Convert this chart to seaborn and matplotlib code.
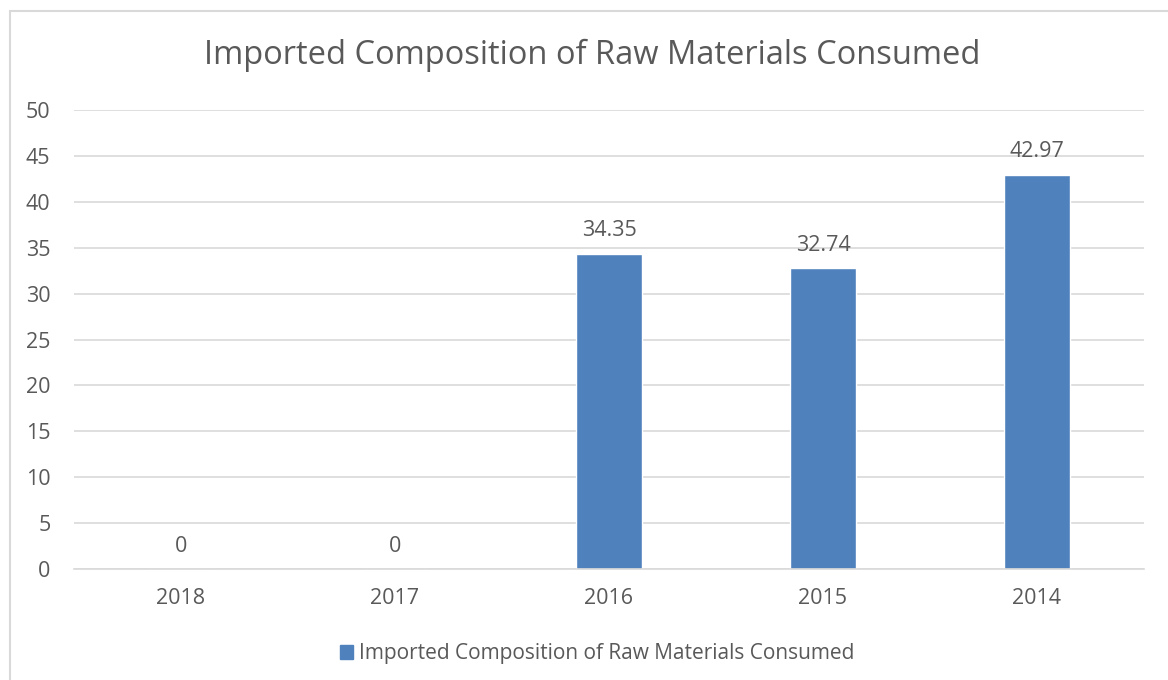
import matplotlib
matplotlib.use("Agg")
import matplotlib.pyplot as plt
import matplotlib.patches as mpatches
import pandas as pd
import seaborn as sns

# ─── Data ─────────────────────────────────────────────────────────────────────
years = ["2018", "2017", "2016", "2015", "2014"]
values = [0, 0, 34.35, 32.74, 42.97]
series_name = "Imported Composition of Raw Materials Consumed"
title = "Imported Composition of Raw Materials Consumed"

BAR = "#4f81bd"
TXT = "#595959"
GRID = "#d9d9d9"

df = pd.DataFrame({"year": years, "value": values, "series": series_name})

sns.set_theme(style="white")
plt.rcParams["font.family"] = ["Open Sans", "DejaVu Sans"]

fig = plt.figure(figsize=(11.68, 6.8), dpi=100)
ax = fig.add_axes([0.0634, 0.1632, 0.916, 0.675])

sns.barplot(
    data=df, x="year", y="value", hue="series", order=years,
    palette=[BAR], width=0.31, ax=ax, saturation=1,
)

ax.set_ylim(0, 50)
ax.set_yticks(range(0, 51, 5))
ax.set_xlim(-0.5, len(years) - 0.5)
ax.grid(axis="y", color=GRID, linewidth=1.2)
ax.set_axisbelow(True)
for side in ["top", "right", "left"]:
    ax.spines[side].set_visible(False)
ax.spines["bottom"].set_color(GRID)
ax.spines["bottom"].set_linewidth(1.2)
ax.set_xlabel("")
ax.set_ylabel("")
ax.tick_params(axis="both", length=0, labelsize=15.5, colors=TXT)
ax.tick_params(axis="x", pad=14)
ax.tick_params(axis="y", pad=17)

for i, v in enumerate(values):
    ax.annotate(f"{v:g}", (i, v), xytext=(0, 9), textcoords="offset points",
                ha="center", va="bottom", fontsize=15.5, color=TXT)

fig.text(0.507, 0.918, title, ha="center", va="center", fontsize=23.5, color=TXT)

handle = mpatches.Patch(color=BAR, label=series_name)
ax.legend(handles=[handle], loc="center", bbox_to_anchor=(0.489, -0.185),
          frameon=False, fontsize=15, labelcolor=TXT, handlelength=0.65,
          handleheight=0.65, handletextpad=0.3)

# outer chart border (partly cropped in the reference)
fig.patches.append(mpatches.Rectangle(
    (10 / 1168, -0.1), 1.2, 1 - 11 / 680 + 0.1, transform=fig.transFigure,
    fill=False, edgecolor=GRID, linewidth=1.5, clip_on=False))

plt.savefig("out.png", dpi=100)
plt.close()
